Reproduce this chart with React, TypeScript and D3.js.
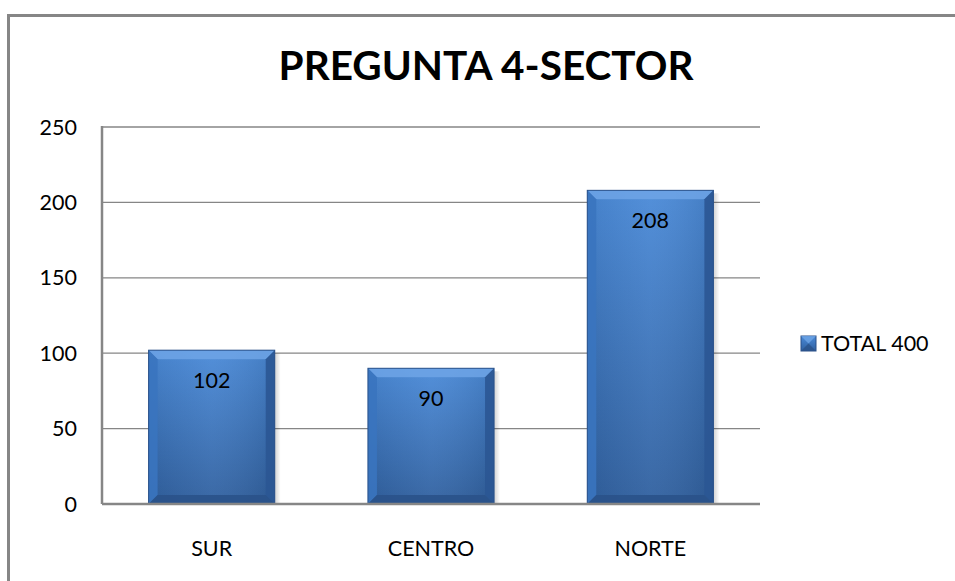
import React from "react";
import * as d3 from "d3";

const categories = ["SUR", "CENTRO", "NORTE"];
const values = [102, 90, 208];
const yTicks = [0, 50, 100, 150, 200, 250];
const seriesName = "TOTAL 400";
const title = "PREGUNTA 4-SECTOR";

const W = 955, H = 581;
const plot = { left: 102, right: 760, top: 127, bottom: 504 };
const FONT = "Lato, 'Open Sans', sans-serif";

export default function App() {
  const x = d3.scaleBand().domain(categories).range([plot.left, plot.right]).paddingInner(0.425).paddingOuter(0.2125);
  const y = d3.scaleLinear().domain([0, 250]).range([plot.bottom, plot.top]);
  const bw = x.bandwidth();
  const bev = 9;
  return (
    <svg width={W} height={H} style={{ position: "absolute", left: 0, top: 0 }}>
      <defs>
        <linearGradient id="face" x1="0" y1="0" x2="0" y2="1">
          <stop offset="0" stopColor="#4a8ad8" />
          <stop offset="1" stopColor="#30609f" />
        </linearGradient>
        <linearGradient id="faceH" x1="0" y1="0" x2="1" y2="0">
          <stop offset="0" stopColor="#000" stopOpacity="0.06" />
          <stop offset="0.5" stopColor="#fff" stopOpacity="0.05" />
          <stop offset="1" stopColor="#000" stopOpacity="0.1" />
        </linearGradient>
        <linearGradient id="shadow" x1="0" y1="0" x2="1" y2="0">
          <stop offset="0" stopColor="#000" stopOpacity="0.18" />
          <stop offset="1" stopColor="#000" stopOpacity="0" />
        </linearGradient>
      </defs>
      <rect x={0} y={0} width={W} height={H} fill="#fff" />
      <rect x={8.5} y={15.5} width={W + 20} height={H + 20} fill="none" stroke="#868686" strokeWidth={3} />
      <text x={486} y={80} textAnchor="middle" fontFamily={FONT} fontWeight="bold" fontSize={40.5} fill="#000">{title}</text>
      {yTicks.map((t) => (
        <g key={t}>
          {t > 0 && <line x1={plot.left} x2={plot.right} y1={y(t)} y2={y(t)} stroke="#868686" strokeWidth={1.3} />}
          <text x={77} y={y(t) + 7.5} textAnchor="end" fontFamily={FONT} fontSize={21.5} fill="#000">{t}</text>
        </g>
      ))}
      {categories.map((c, i) => {
        const x0 = x(c)!;
        const y0 = y(values[i]);
        const y1 = y(0);
        const x1 = x0 + bw;
        return (
          <g key={c}>
            <rect x={x1} y={y0 + 3} width={6} height={y1 - y0 - 3} fill="url(#shadow)" />
            <rect x={x0} y={y0} width={bw} height={y1 - y0} fill="url(#face)" />
            <rect x={x0} y={y0} width={bw} height={y1 - y0} fill="url(#faceH)" />
            <polygon points={`${x0},${y0} ${x1},${y0} ${x1 - bev},${y0 + bev} ${x0 + bev},${y0 + bev}`} fill="#6ea5e6" opacity={0.85} />
            <polygon points={`${x0},${y0} ${x0 + bev},${y0 + bev} ${x0 + bev},${y1 - bev} ${x0},${y1}`} fill="#3a74bf" opacity={0.9} />
            <polygon points={`${x1},${y0} ${x1 - bev},${y0 + bev} ${x1 - bev},${y1 - bev} ${x1},${y1}`} fill="#2b5794" opacity={0.9} />
            <polygon points={`${x0},${y1} ${x0 + bev},${y1 - bev} ${x1 - bev},${y1 - bev} ${x1},${y1}`} fill="#2a528a" opacity={0.9} />
            <rect x={x0} y={y0} width={bw} height={y1 - y0} fill="none" stroke="#2a5189" strokeWidth={1} />
            <text x={x0 + bw / 2} y={y0 + 38} textAnchor="middle" fontFamily={FONT} fontSize={21.5} fill="#000">{values[i]}</text>
            <text x={x0 + bw / 2} y={556} textAnchor="middle" fontFamily={FONT} fontSize={21.5} fill="#000">{c}</text>
          </g>
        );
      })}
      <line x1={plot.left} x2={plot.left} y1={plot.top - 1} y2={plot.bottom} stroke="#868686" strokeWidth={2.5} />
      <line x1={plot.left} x2={plot.right} y1={plot.bottom} y2={plot.bottom} stroke="#868686" strokeWidth={2.5} />
      <g>
        <rect x={801} y={336} width={15} height={15} fill="url(#face)" stroke="#2a5189" strokeWidth={1} />
        <polygon points="801,336 816,336 808.5,343.5" fill="#6ea5e6" opacity={0.8} />
        <polygon points="801,351 816,351 808.5,343.5" fill="#2a528a" opacity={0.8} />
        <text x={821} y={351} fontFamily={FONT} fontSize={21.5} fill="#000">{seriesName}</text>
      </g>
    </svg>
  );
}
